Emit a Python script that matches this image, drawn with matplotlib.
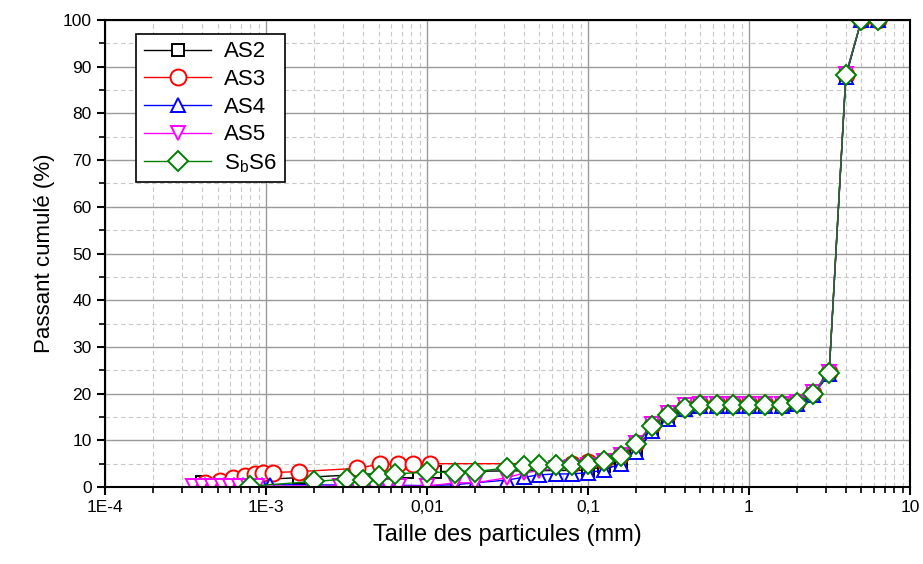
import matplotlib.pyplot as plt
import numpy as np
from matplotlib.ticker import FixedLocator, FixedFormatter, LogLocator, MultipleLocator, NullFormatter

plt.rcParams.update({
    'font.family': 'sans-serif',
    'font.sans-serif': ['Liberation Sans', 'DejaVu Sans'],
    'mathtext.fontset': 'custom',
    'mathtext.rm': 'Liberation Sans',
})

# tamis (mm) communs aux cinq courbes
sieve_x = [0.1, 0.125, 0.16, 0.2, 0.25, 0.315, 0.4, 0.5, 0.63, 0.8, 1, 1.25, 1.6, 2, 2.5, 3.15, 4, 5, 6.3]

as2_x = [0.0004, 0.0016, 0.0075, 0.0112] + sieve_x
as2_y = [1.0, 2.0, 3.2, 3.3,
         3.6, 4.4, 5.4, 7.7, 11.8, 15.0, 16.8, 17.4, 17.5, 17.5, 17.5, 17.5, 17.5, 17.9, 19.8, 24.4, 88.0, 100, 100]

as3_x = [0.00042, 0.00052, 0.00062, 0.00074, 0.00085, 0.00096, 0.0011, 0.0016,
         0.0037, 0.0051, 0.0066, 0.0082, 0.0105, 0.08] + sieve_x
as3_y = [0.9, 1.35, 1.85, 2.35, 2.8, 3.1, 3.1, 3.3, 4.0, 4.9, 4.9, 4.9, 5.0, 5.0,
         5.3, 5.6, 6.8, 9.4, 13.2, 15.6, 17.2, 17.7, 17.7, 17.7, 17.7, 17.7, 17.7, 18.1, 20.1, 24.6, 88.3, 100, 100]

as4_x = [0.00042, 0.00048, 0.00055, 0.00063, 0.00072, 0.00082, 0.00095, 0.00106,
         0.0045, 0.0057, 0.01, 0.015, 0.02, 0.0315, 0.04, 0.05, 0.063, 0.08] + sieve_x
as4_y = [0.5, 0.5, 0.5, 0.5, 0.5, 0.5, 0.5, 0.5, 0.4, 0.4, 0.3, 0.5, 0.9, 1.5, 2.1, 2.6, 2.8, 2.8,
         3.1, 3.6, 5.0, 7.5, 12.0, 14.5, 16.6, 17.3, 17.3, 17.3, 17.3, 17.3, 17.3, 17.8, 19.6, 24.2, 87.8, 100, 100]

as5_x = [0.00035, 0.0004, 0.00046, 0.00053, 0.0006, 0.00068, 0.00077, 0.00088,
         0.0029, 0.0037, 0.0047, 0.0057, 0.0067, 0.01, 0.015, 0.02, 0.0315, 0.04, 0.05, 0.063, 0.08] + sieve_x
as5_y = [0.2, 0.2, 0.2, 0.2, 0.2, 0.2, 0.2, 0.2, 0.2, 0.2, 0.2, 0.2, 0.2, 0.2, 0.9, 0.9, 2.0, 3.0, 3.5, 4.0, 4.3,
         4.8, 5.5, 6.8, 9.4, 13.4, 15.8, 17.5, 17.8, 17.8, 17.8, 17.8, 17.8, 17.8, 18.2, 20.3, 24.6, 88.4, 100, 100]

s6_x = [0.0008, 0.002, 0.0032, 0.004, 0.005, 0.0063, 0.01, 0.015, 0.02, 0.0315, 0.04, 0.05, 0.063, 0.08] + sieve_x
s6_y = [0.2, 1.2, 1.7, 1.6, 2.3, 2.8, 3.2, 3.1, 3.3, 4.1, 4.6, 4.7, 4.7, 4.8,
        5.0, 5.5, 6.6, 9.2, 13.1, 15.4, 17.0, 17.6, 17.6, 17.6, 17.6, 17.6, 17.6, 18.0, 20.0, 24.4, 88.2, 100, 100]

series = [
    (as2_x, as2_y, 'AS2', 'black', 's', 9),
    (as3_x, as3_y, 'AS3', 'red', 'o', 11.5),
    (as4_x, as4_y, 'AS4', 'blue', '^', 10.5),
    (as5_x, as5_y, 'AS5', 'magenta', 'v', 10.5),
    (s6_x, s6_y, r'$\mathregular{S_bS6}$', 'green', 'D', 10),
]

xtick_vals = [1e-4, 1e-3, 1e-2, 1e-1, 1, 10]
xtick_labels = ['1E-4', '1E-3', '0,01', '0,1', '1', '10']

fig = plt.figure(figsize=(9.23, 5.64), dpi=100)
ax = fig.add_axes([0.1138, 0.1365, 0.872, 0.828])

for x, y, lab, c, m, ms in series:
    ax.plot(x, y, color=c, lw=1, marker=m, ms=ms, mfc='white', mec=c, mew=1.4, label=lab)

ax.set_xscale('log')
ax.set_xlim(1e-4, 10)
ax.set_ylim(0, 100)
ax.xaxis.set_major_locator(FixedLocator(xtick_vals))
ax.xaxis.set_major_formatter(FixedFormatter(xtick_labels))
ax.xaxis.set_minor_locator(LogLocator(base=10, subs=np.arange(2, 10)))
ax.xaxis.set_minor_formatter(NullFormatter())
ax.yaxis.set_major_locator(MultipleLocator(10))
ax.yaxis.set_minor_locator(MultipleLocator(5))

ax.grid(which='major', color='#9a9a9a', lw=1.0, ls='-')
ax.grid(which='minor', color='#c8c8c8', lw=0.8, ls=(0, (4, 3)))
ax.set_axisbelow(True)

ax.tick_params(which='major', direction='out', length=6, width=1.5, labelsize=12.5)
ax.tick_params(which='minor', direction='out', length=4, width=1.2)
for s in ax.spines.values():
    s.set_linewidth(1.5)

ax.set_xlabel('Taille des particules (mm)', fontsize=17, labelpad=6)
ax.set_ylabel('Passant cumulé (%)', fontsize=16, labelpad=6)

leg = ax.legend(loc='upper left', bbox_to_anchor=(0.039, 0.971), fontsize=16, handlelength=3.0,
                fancybox=False, framealpha=1, edgecolor='black', borderpad=0.35, labelspacing=0.3,
                handletextpad=0.6, borderaxespad=0)
leg.get_frame().set_linewidth(1.2)

plt.savefig('out.png', dpi=100)
